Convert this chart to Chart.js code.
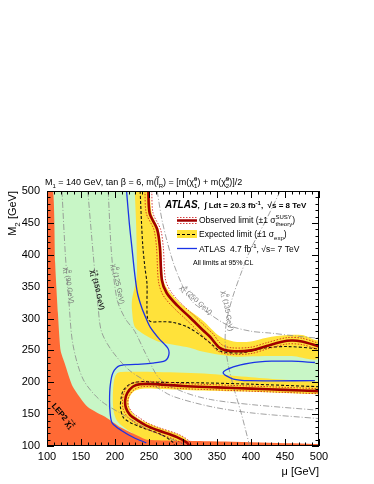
<!DOCTYPE html>
<html>
<head>
<meta charset="utf-8">
<script src="https://cdn.jsdelivr.net/npm/chart.js@4.4.0/dist/chart.umd.min.js"></script>
<style>html,body{margin:0;padding:0;background:#fff}canvas{display:block}</style>
</head>
<body>
<canvas id="exclusion" width="374" height="484"></canvas>
<script>
// tick labels
const xTicks = [100, 150, 200, 250, 300, 350, 400, 450, 500];
const yTicks = [100, 150, 200, 250, 300, 350, 400, 450, 500];

// [mu, M2] pairs
const plotFrame = [[100,100],[500,100],[500,500],[100,500],[100,100]];
const lep2Region = [[100,500],[109,500],[112,387],[116,309],[120,250],[126,230],[138,193],[160,161],[188,144],[207,130],[232,117],[247,110],[325,108],[500,103],[500,100],[100,100]];

// expected +-1 sigma band edges
const bandUpperInner = [[229,500],[231,450],[232,400],[232,365],[228,345],[225,329],[225,313],[229,287],[240,277],[255,268],[266,263],[290,258],[310,254],[325,249],[354,243],[380,240],[420,241],[460,241],[500,240]];
const bandUpperOuter = [[251,500],[254,465],[264,440],[268,412],[271,360],[280,342],[300,320],[329,297],[354,272],[374,264],[400,264],[423,270],[453,274],[475,274],[500,268]];
const bandLowerOuter = [[500,201],[450,204],[400,208],[340,213],[262,216],[210,216],[203,214],[199,205],[197,185],[197,165],[199,150],[204,138],[215,128],[237,112],[245,100]];
const bandLowerInner = [[500,181],[450,183],[400,185],[330,187],[260,190],[240,190],[230,187],[223,180],[220,170],[221,160],[226,151],[236,142],[262,130],[296,117],[310,106],[315,100]];

// expected limit
const expUpper = [[237,500],[239,450],[241,412],[244,380],[247,355],[247,320],[248,300],[253,295],[270,295],[285,294],[306,287],[329,271],[345,257],[354,249],[384,246],[423,254],[453,256],[494,253],[500,252]];
const expLower = [[500,193],[400,197],[330,199],[260,200],[237,201],[222,197],[212,187],[209,175],[208,161],[212,145],[222,137],[237,130],[270,117],[285,106],[288,100]];

// observed limit and theory +-1 sigma
const obsUpper = [[249,500],[251,465],[262,440],[266,412],[269,360],[276,340],[291,321],[310,302],[329,282],[340,271],[354,254],[370,249],[400,250],[423,257],[453,265],[475,264],[500,256]];
const obsUpperUp = [[254,500],[256,465],[267,440],[271,412],[274,362],[281,344],[295,326],[314,307],[333,287],[344,276],[357,259],[372,254],[400,255],[423,262],[453,270],[475,269],[500,261]];
const obsUpperDn = [[244,500],[246,465],[257,440],[261,412],[264,358],[271,336],[287,316],[306,297],[325,277],[336,266],[351,249],[368,244],[400,245],[423,252],[453,260],[475,259],[500,251]];
const obsLower = [[500,186],[450,188],[400,190],[350,192],[300,194],[260,197],[237,197],[226,193],[218,183],[215,172],[216,160],[222,149],[232,141],[246,132],[262,125],[291,114],[306,105],[309,100]];
const obsLowerUp = [[500,190],[450,192],[400,194],[350,196],[300,198],[260,201],[236,201],[223,197],[214,186],[211,172],[212,158],[218,146],[229,137],[244,128],[260,121],[288,110],[302,102],[304,100]];
const obsLowerDn = [[500,182],[450,184],[400,186],[350,188],[300,190],[260,193],[239,193],[229,189],[222,181],[219,172],[220,162],[226,152],[235,145],[248,136],[264,129],[294,118],[309,108],[313,100]];

// ATLAS 4.7 fb-1 7 TeV
const atlas7Left = [[217,500],[221,450],[225,410],[229,370],[233,340],[239,318],[245,302],[252,286],[265,268],[278,253],[279,242],[274,234],[255,230],[230,228],[207,226],[197,215],[193,195],[192,170],[193,150],[196,136],[210,124],[228,113],[246,105]];
const atlas7Right = [[494,231],[460,233],[430,233],[398,230],[374,224],[359,215],[374,205],[398,202.5],[494,202.5]];

// mass contours
const neut90 = [[122,500],[127,400],[132,330],[138,260],[153,205],[178,172],[212,149],[251,125],[296,105],[306,100]];
const char150 = [[160,500],[168,400],[175,320],[180,280],[195,250],[222,218],[260,193],[285,178],[340,162],[400,152],[500,143]];
const neut125 = [[190,500],[195,400],[203,330],[215,300],[229,280],[245,245],[266,205],[300,185],[340,173],[400,165],[500,156]];
const char250 = [[262,500],[270,450],[285,390],[300,350],[315,325],[335,310],[365,290],[400,280],[430,277],[470,272],[500,269]];
const neut135 = [[443,500],[420,450],[400,410],[385,370],[372,330],[364,295],[362,265],[366,230],[375,190],[386,150],[398,100]];

const FONT = "'Liberation Sans', Arial, Helvetica, sans-serif";
const GREEN = '#c8f6c6', YELLOW = '#ffe23a', ORANGE = '#ff6a35', WHITE = '#ffffff';

const pts = a => a.map(p => ({x: p[0], y: p[1]}));
const closed = a => a.concat([a[0]]);

function area(arr, color, order, tension) {
    return {data: pts(arr), showLine: true, fill: 'shape', backgroundColor: color,
        borderColor: 'rgba(0,0,0,0)', borderWidth: 0, order: order, tension: tension};
}
function curve(arr, color, width, dash, order) {
    return {data: pts(arr), showLine: true, fill: false, borderColor: color,
        borderWidth: width, borderDash: dash, order: order, tension: 0.3};
}

// text with sub/superscripts: parts = [text, kind, text2]
function rich(ctx, x, y, parts, size, weight, dry) {
    let cx = x;
    for (const p of parts) {
        const kind = p[1] || 'n';
        const small = kind !== 'n';
        ctx.font = `${weight} ${small ? Math.round(size * 0.7) : size}px ${FONT}`;
        if (kind === 'stack') {
            const w = Math.max(ctx.measureText(p[0]).width, ctx.measureText(p[2]).width);
            if (!dry) {
                ctx.fillText(p[0], cx, y - size * 0.42);
                ctx.fillText(p[2], cx, y + size * 0.32);
            }
            cx += w;
        } else {
            const dy = kind === 'sup' ? -size * 0.42 : kind === 'sub' ? size * 0.32 : 0;
            if (!dry) ctx.fillText(p[0], cx, y + dy);
            cx += ctx.measureText(p[0]).width;
        }
    }
    return cx - x;
}

function rotLabel(ctx, px, py, deg, parts, size, color, weight) {
    ctx.save();
    ctx.translate(px, py);
    ctx.rotate(deg * Math.PI / 180);
    ctx.fillStyle = color;
    ctx.textBaseline = 'middle';
    const w = rich(ctx, 0, 0, parts, size, weight, true);
    rich(ctx, -w / 2, 0, parts, size, weight, false);
    ctx.restore();
}

const decorations = {
    id: 'decorations',
    afterDatasetsDraw(chart) {
        const {ctx, chartArea: ca, scales: {x, y}} = chart;
        const at = (mu, m2) => [x.getPixelForValue(mu), y.getPixelForValue(m2)];

        // mass contour labels
        let p;
        p = at(132, 352); rotLabel(ctx, p[0], p[1], 82, [['χ̃'], ['0', 'stack', '1'], [' (90 GeV)']], 7, '#777', 'normal');
        p = at(174, 345); rotLabel(ctx, p[0], p[1], 77, [['χ̃'], ['±', 'stack', '1'], [' (150 GeV)']], 7, '#222', 'bold');
        p = at(204, 354); rotLabel(ctx, p[0], p[1], 78, [['χ̃'], ['0', 'stack', '1'], [' (125 GeV)']], 7, '#777', 'normal');
        p = at(319, 329); rotLabel(ctx, p[0], p[1], 42, [['χ̃'], ['±', 'stack', '1'], [' (250 GeV)']], 7, '#777', 'normal');
        p = at(365, 312); rotLabel(ctx, p[0], p[1], 80, [['χ̃'], ['0', 'stack', '1'], [' (135 GeV)']], 7, '#777', 'normal');
        p = at(123, 147); rotLabel(ctx, p[0], p[1], 50, [['LEP2 χ̃'], ['±', 'stack', '1']], 8, '#000', 'bold');

        // frame and ticks
        ctx.save();
        ctx.strokeStyle = '#000';
        ctx.lineWidth = 1;
        ctx.strokeRect(ca.left + 0.5, ca.top + 0.5, ca.right - ca.left - 1, ca.bottom - ca.top - 1);
        ctx.beginPath();
        for (let v = 100; v <= 500; v += 10) {
            const len = v % 50 === 0 ? 7 : 3.5;
            const px = Math.round(x.getPixelForValue(v)) + 0.5;
            ctx.moveTo(px, ca.bottom); ctx.lineTo(px, ca.bottom - len);
            ctx.moveTo(px, ca.top); ctx.lineTo(px, ca.top + len);
            const py = Math.round(y.getPixelForValue(v)) + 0.5;
            ctx.moveTo(ca.left, py); ctx.lineTo(ca.left + len, py);
            ctx.moveTo(ca.right, py); ctx.lineTo(ca.right - len, py);
        }
        ctx.stroke();

        // tick labels
        ctx.fillStyle = '#000';
        ctx.font = `11px ${FONT}`;
        ctx.textAlign = 'center';
        ctx.textBaseline = 'alphabetic';
        xTicks.forEach(v => ctx.fillText(String(v), x.getPixelForValue(v), ca.bottom + 14));
        ctx.textAlign = 'right';
        ctx.textBaseline = 'middle';
        yTicks.forEach(v => ctx.fillText(String(v), ca.left - 7, y.getPixelForValue(v)));

        // axis titles
        ctx.textBaseline = 'alphabetic';
        ctx.textAlign = 'left';
        const wx = rich(ctx, 0, 0, [['μ [GeV]']], 11, 'normal', true);
        rich(ctx, ca.right - wx, ca.bottom + 29, [['μ [GeV]']], 11, 'normal', false);
        ctx.save();
        ctx.translate(16, ca.top);
        ctx.rotate(-Math.PI / 2);
        const yParts = [['M'], ['2', 'sub'], [' [GeV]']];
        const wy = rich(ctx, 0, 0, yParts, 11, 'normal', true);
        rich(ctx, -wy, 0, yParts, 11, 'normal', false);
        ctx.restore();

        // title
        rich(ctx, ca.left - 2, ca.top - 6, [['M'], ['1', 'sub'], [' = 140 GeV, tan β = 6, m(l̃'], ['R', 'sub'],
            [') = [m(χ̃'], ['0', 'stack', '1'], [') + m(χ̃'], ['0', 'stack', '2'], [')]/2']], 9, 'normal', false);

        // legend
        const lx = ca.left + 130, tx = ca.left + 152;
        ctx.font = `italic bold 10px ${FONT}`;
        ctx.fillText('ATLAS', ca.left + 118, ca.top + 17);
        const aw = ctx.measureText('ATLAS').width;
        rich(ctx, ca.left + 118 + aw, ca.top + 17, [[',  ∫ Ldt = 20.3 fb'], ['-1', 'sup'], [',  √s = 8 TeV']], 8, 'bold', false);

        // observed symbol
        ctx.strokeStyle = '#cc1111';
        ctx.lineWidth = 0.8;
        ctx.setLineDash([1.5, 1.5]);
        ctx.beginPath();
        ctx.moveTo(lx, ca.top + 26.5); ctx.lineTo(lx + 20, ca.top + 26.5);
        ctx.moveTo(lx, ca.top + 32.5); ctx.lineTo(lx + 20, ca.top + 32.5);
        ctx.stroke();
        ctx.setLineDash([]);
        ctx.strokeStyle = '#a00000';
        ctx.lineWidth = 2.5;
        ctx.beginPath(); ctx.moveTo(lx, ca.top + 29.5); ctx.lineTo(lx + 20, ca.top + 29.5); ctx.stroke();
        rich(ctx, tx, ca.top + 32, [['Observed limit (±1 σ'], ['SUSY', 'stack', 'theory'], [')']], 8.5, 'normal', false);

        // expected symbol
        ctx.fillStyle = YELLOW;
        ctx.fillRect(lx, ca.top + 39, 20, 8);
        ctx.strokeStyle = '#000';
        ctx.lineWidth = 1;
        ctx.setLineDash([3, 2]);
        ctx.beginPath(); ctx.moveTo(lx, ca.top + 43.5); ctx.lineTo(lx + 20, ca.top + 43.5); ctx.stroke();
        ctx.setLineDash([]);
        ctx.fillStyle = '#000';
        rich(ctx, tx, ca.top + 46, [['Expected limit (±1 σ'], ['exp', 'sub'], [')']], 8.5, 'normal', false);

        // 7 TeV symbol
        ctx.strokeStyle = '#1a33e6';
        ctx.lineWidth = 1.3;
        ctx.beginPath(); ctx.moveTo(lx, ca.top + 57.5); ctx.lineTo(lx + 20, ca.top + 57.5); ctx.stroke();
        rich(ctx, tx, ca.top + 61, [['ATLAS  4.7 fb'], ['-1', 'sup'], [', √s= 7 TeV']], 8.5, 'normal', false);

        ctx.font = `7px ${FONT}`;
        ctx.fillText('All limits at 95% CL', ca.left + 146, ca.top + 74);
        ctx.restore();
    }
};

new Chart(document.getElementById('exclusion'), {
    type: 'scatter',
    data: {
        datasets: [
            curve(obsUpper, '#a00000', 2.6, [], 1),
            curve(obsLower, '#a00000', 2.6, [], 1),
            curve(obsUpperUp, '#cc1111', 0.8, [1.5, 1.5], 2),
            curve(obsUpperDn, '#cc1111', 0.8, [1.5, 1.5], 2),
            curve(obsLowerUp, '#cc1111', 0.8, [1.5, 1.5], 2),
            curve(obsLowerDn, '#cc1111', 0.8, [1.5, 1.5], 2),
            curve(expUpper, '#111', 1.1, [3, 2], 3),
            curve(expLower, '#111', 1.1, [3, 2], 3),
            curve(atlas7Left, '#1a33e6', 1.3, [], 4),
            curve(atlas7Right, '#1a33e6', 1.3, [], 4),
            curve(neut90, '#8a8a8a', 0.8, [6, 2, 1, 2], 6),
            curve(char150, '#8a8a8a', 0.8, [6, 2, 1, 2], 6),
            curve(neut125, '#8a8a8a', 0.8, [6, 2, 1, 2], 6),
            curve(char250, '#8a8a8a', 0.8, [6, 2, 1, 2], 6),
            curve(neut135, '#8a8a8a', 0.8, [6, 2, 1, 2], 6),
            area(lep2Region, ORANGE, 10, 0.2),
            area(closed(bandLowerInner.concat([[500,100]])), WHITE, 11, 0.3),
            area(closed(bandLowerOuter.concat([[500,100]])), YELLOW, 12, 0.3),
            area(closed(bandUpperOuter.concat([[500,500]])), WHITE, 13, 0.3),
            area(closed(bandUpperInner.concat([[500,500]])), YELLOW, 14, 0.3),
            area(plotFrame, GREEN, 15, 0)
        ]
    },
    options: {
        responsive: false,
        animation: false,
        devicePixelRatio: 1,
        events: [],
        layout: {padding: {left: 47, right: 55, top: 191, bottom: 38}},
        plugins: {legend: {display: false}, tooltip: {enabled: false}},
        elements: {point: {radius: 0}},
        scales: {
            x: {type: 'linear', min: 100, max: 500, display: false},
            y: {type: 'linear', min: 100, max: 500, display: false}
        }
    },
    plugins: [decorations]
});
</script>
</body>
</html>
